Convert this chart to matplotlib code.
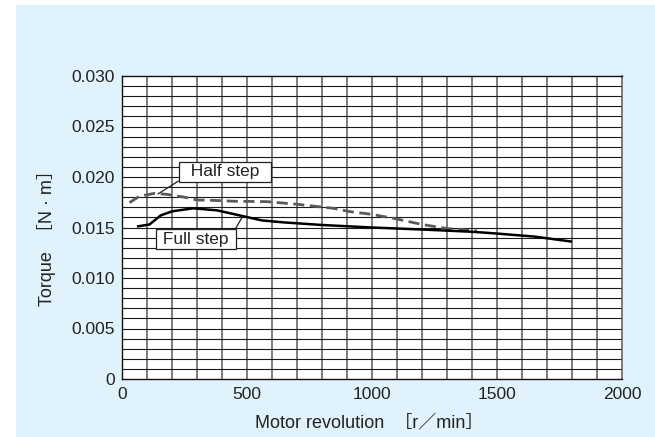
import matplotlib
matplotlib.use("Agg")
import matplotlib.pyplot as plt
from matplotlib.patches import Rectangle
import numpy as np

# ---- data ----
full_x = [60, 110, 130, 155, 200, 285, 380, 470, 560, 650, 800, 1000, 1200, 1400, 1500, 1650, 1800]
full_y = [0.0151, 0.0153, 0.0157, 0.0162, 0.0166, 0.0169, 0.0167, 0.0162, 0.0157, 0.0155,
          0.01525, 0.0150, 0.0148, 0.01458, 0.0144, 0.0141, 0.0136]
half_x = [30, 70, 130, 180, 250, 300, 350, 450, 580, 700, 845, 912, 1000, 1100, 1200, 1300, 1420]
half_y = [0.01746, 0.0181, 0.01838, 0.01828, 0.0180, 0.01772, 0.0177, 0.0176, 0.01756, 0.0173,
          0.0169, 0.01657, 0.0163, 0.01584, 0.0153, 0.0149, 0.01465]
x_ticks = [0, 500, 1000, 1500, 2000]
x_tick_labels = ["0", "500", "1000", "1500", "2000"]
y_ticks = [0, 0.005, 0.010, 0.015, 0.020, 0.025, 0.030]
y_tick_labels = ["0", "0.005", "0.010", "0.015", "0.020", "0.025", "0.030"]
series_names = ["Half step", "Full step"]
x_label = "Motor revolution  ［r／min］"
y_label = "Torque  ［N · m］"

FONT = ["Liberation Sans", "Noto Sans CJK JP", "DejaVu Sans"]
plt.rcParams["font.family"] = FONT

W, H = 655, 437
fig = plt.figure(figsize=(W / 100, H / 100), dpi=100)
fig.patch.set_facecolor("white")
fig.patches.append(Rectangle((16 / W, 0), 1 - 16 / W, (H - 5) / H, transform=fig.transFigure,
                             facecolor="#E0F2FC", edgecolor="none", zorder=-10))

ax = fig.add_axes([122 / W, (H - 379) / H, 500 / W, 303 / H])
ax.set_zorder(1)
ax.set_facecolor("white")
ax.set_xlim(0, 2000)
ax.set_ylim(0, 0.030)

# grid
for xv in np.arange(100, 2000, 100):
    ax.axvline(xv, color="#5a5a5a", lw=1.1, zorder=1)
for yv in np.arange(0.001, 0.030, 0.001):
    ax.axhline(yv, color="#1a1a1a", lw=0.8, zorder=1.5)

for s in ["left", "top", "bottom"]:
    ax.spines[s].set_color("#111111")
    ax.spines[s].set_linewidth(1.0)
ax.spines["right"].set_color("#5a5a5a")
ax.spines["right"].set_linewidth(1.1)

ax.set_xticks(x_ticks)
ax.set_xticklabels(x_tick_labels)
ax.set_yticks(y_ticks)
ax.set_yticklabels(y_tick_labels)
ax.tick_params(length=0, labelsize=12.5, colors="#222222", pad=6)
ax.tick_params(axis="y", pad=5)

ax.plot(half_x, half_y, color="#5a5a5a", lw=2.0, dashes=(4, 2), zorder=3)
ax.plot(full_x, full_y, color="black", lw=1.8, zorder=4, solid_capstyle="butt")

box = dict(boxstyle="square,pad=0.12", facecolor="white", edgecolor="#222222", lw=0.9)
ax.annotate("  " + series_names[0] + "  ", xy=(144, 0.01832), xytext=(412, 0.0205),
            textcoords="data", ha="center", va="center", fontsize=12.5, color="#222222",
            bbox=box, zorder=5,
            arrowprops=dict(arrowstyle="-", color="#222222", lw=0.9, shrinkA=0, shrinkB=0,
                            relpos=(0, 0)))
ax.annotate(" " + series_names[1] + " ", xy=(484, 0.01614), xytext=(296, 0.01386),
            textcoords="data", ha="center", va="center", fontsize=12.5, color="#222222",
            bbox=box, zorder=5,
            arrowprops=dict(arrowstyle="-", color="#222222", lw=0.9, shrinkA=0, shrinkB=0,
                            relpos=(1, 1)))

fig.text(47 / W, (H - 234) / H, y_label, rotation=90, ha="center", va="center",
         fontsize=13, color="#222222")
fig.text(369 / W, (H - 423) / H, x_label, ha="center", va="center",
         fontsize=13, color="#222222")

fig.savefig("out.png", dpi=100)
